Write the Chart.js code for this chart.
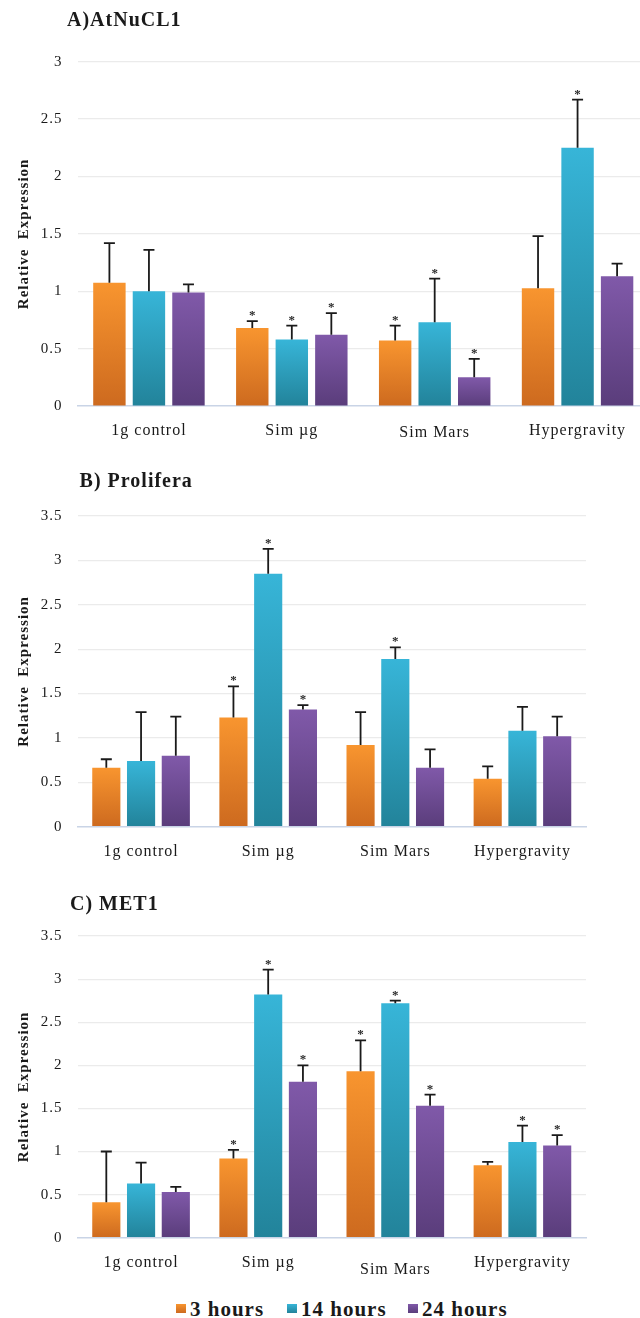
<!DOCTYPE html>
<html>
<head>
<meta charset="utf-8">
<script src="https://cdn.jsdelivr.net/npm/chart.js@4.4.1/dist/chart.umd.min.js"></script>
<style>
  html, body { margin: 0; padding: 0; background: #ffffff; width: 640px; height: 1318px; overflow: hidden; }
  .panel { position: absolute; left: 0; }
  .legend-item { position: absolute; font: bold 21px "Liberation Serif", "Times New Roman", serif; letter-spacing: 1px; line-height: 24px; color: #1a1a1a; white-space: nowrap; }
  .legend-item i { position: absolute; left: 0; top: 7px; width: 10px; height: 9px; }
  .legend-item span { position: absolute; left: 14px; top: 0; }
</style>
</head>
<body>
<div class="panel" style="top:0px;width:660px;height:450px"><canvas id="cA"></canvas></div>
<div class="panel" style="top:440px;width:660px;height:430px"><canvas id="cB"></canvas></div>
<div class="panel" style="top:870px;width:660px;height:412px"><canvas id="cC"></canvas></div>
<div id="legend"></div>
<script>
// ---------------- DATA ----------------
const categories = ['1g control', 'Sim \u00b5g', 'Sim Mars', 'Hypergravity'];
const seriesNames = ['3 hours', '14 hours', '24 hours'];

// A) AtNuCL1
const a3h  = [1.075, 0.68, 0.57, 1.025];
const a14h = [1.00, 0.58, 0.73, 2.25];
const a24h = [0.99, 0.62, 0.25, 1.13];
const a3hErr  = [0.345, 0.06, 0.13, 0.455];
const a14hErr = [0.36, 0.12, 0.38, 0.42];
const a24hErr = [0.07, 0.19, 0.16, 0.11];
const a3hSig  = [0, 1, 1, 0];
const a14hSig = [0, 1, 1, 1];
const a24hSig = [0, 1, 1, 0];

// B) Prolifera
const b3h  = [0.665, 1.23, 0.92, 0.54];
const b14h = [0.74, 2.85, 1.89, 1.08];
const b24h = [0.80, 1.32, 0.665, 1.02];
const b3hErr  = [0.095, 0.35, 0.37, 0.14];
const b14hErr = [0.55, 0.28, 0.13, 0.27];
const b24hErr = [0.44, 0.05, 0.205, 0.22];
const b3hSig  = [0, 1, 0, 0];
const b14hSig = [0, 1, 1, 0];
const b24hSig = [0, 1, 0, 0];

// C) MET1
const c3h  = [0.41, 0.92, 1.93, 0.84];
const c14h = [0.63, 2.82, 2.72, 1.11];
const c24h = [0.53, 1.81, 1.53, 1.07];
const c3hErr  = [0.59, 0.10, 0.36, 0.04];
const c14hErr = [0.24, 0.29, 0.03, 0.19];
const c24hErr = [0.06, 0.19, 0.13, 0.12];
const c3hSig  = [0, 1, 1, 0];
const c14hSig = [0, 1, 1, 1];
const c24hSig = [0, 1, 1, 1];

const panelTitles = ['A)AtNuCL1', 'B) Prolifera', 'C) MET1'];
const yTitle = 'Relative  Expression';
const yMaxA = 3, yMaxBC = 3.5, yStep = 0.5;

// ---------------- STYLE ----------------
const SERIF = '"Liberation Serif", "Times New Roman", serif';
const TEXT = '#1a1a1a';
const palette = [
  { top: '#F8952F', bot: '#CD6A1F' },
  { top: '#37B5D8', bot: '#22839A' },
  { top: '#8059A9', bot: '#5A3D7B' }
];

function barGradient(idx) {
  return function (ctx) {
    const c = palette[idx];
    const chart = ctx.chart;
    if (!chart.chartArea || ctx.raw === undefined || !chart.scales.y) return c.top;
    const ys = chart.scales.y;
    const y0 = ys.getPixelForValue(ctx.raw);
    const y1 = ys.getPixelForValue(0);
    if (!isFinite(y0) || !isFinite(y1) || y0 === y1) return c.top;
    const g = chart.ctx.createLinearGradient(0, y0, 0, y1);
    g.addColorStop(0, c.top);
    g.addColorStop(1, c.bot);
    return g;
  };
}

const spacingPlugin = {
  id: 'spacing',
  beforeUpdate(chart) { chart.ctx.letterSpacing = '1px'; },
  beforeDraw(chart) { chart.ctx.letterSpacing = '1px'; }
};

const errorBarPlugin = {
  id: 'errorBars',
  afterDatasetsDraw(chart) {
    const ctx = chart.ctx;
    const ys = chart.scales.y;
    ctx.save();
    chart.data.datasets.forEach((ds, di) => {
      const meta = chart.getDatasetMeta(di);
      meta.data.forEach((bar, i) => {
        const top = ys.getPixelForValue(ds.data[i] + ds.errors[i]);
        ctx.strokeStyle = '#1a1a1a';
        ctx.lineWidth = 1.8;
        ctx.beginPath();
        ctx.moveTo(bar.x, bar.y);
        ctx.lineTo(bar.x, top);
        ctx.moveTo(bar.x - 5.5, top);
        ctx.lineTo(bar.x + 5.5, top);
        ctx.stroke();
        if (ds.sig[i]) {
          ctx.fillStyle = '#2a2a2a';
          ctx.font = 'bold 13px ' + SERIF;
          ctx.textAlign = 'center';
          ctx.textBaseline = 'alphabetic';
          ctx.fillText('*', bar.x + 0.5, top - 2);
        }
      });
    });
    ctx.restore();
  }
};

const panelTitlePlugin = {
  id: 'panelTitle',
  afterDraw(chart, args, opts) {
    const ctx = chart.ctx;
    ctx.save();
    ctx.letterSpacing = '1px';
    ctx.font = 'bold 20px ' + SERIF;
    ctx.fillStyle = TEXT;
    ctx.textAlign = 'left';
    ctx.textBaseline = 'middle';
    ctx.fillText(opts.text, opts.x, opts.y);
    ctx.restore();
  }
};

function makePanel(cfg) {
  const W = 660;
  const datasets = [
    { label: seriesNames[0], data: cfg.s[0], errors: cfg.e[0], sig: cfg.g[0], backgroundColor: barGradient(0) },
    { label: seriesNames[1], data: cfg.s[1], errors: cfg.e[1], sig: cfg.g[1], backgroundColor: barGradient(1) },
    { label: seriesNames[2], data: cfg.s[2], errors: cfg.e[2], sig: cfg.g[2], backgroundColor: barGradient(2) }
  ];
  datasets.forEach(d => { d.categoryPercentage = cfg.cp; d.barPercentage = cfg.bp; d.borderWidth = 0; });
  const canvas = document.getElementById(cfg.id);
  new Chart(canvas, {
    type: 'bar',
    data: { labels: categories, datasets },
    plugins: [spacingPlugin, errorBarPlugin, panelTitlePlugin],
    options: {
      responsive: true,
      maintainAspectRatio: false,
      animation: false,
      events: [],
      layout: { padding: { top: cfg.areaTop, right: W - cfg.areaRight, bottom: 0, left: 0 } },
      plugins: {
        legend: { display: false },
        tooltip: { enabled: false },
        title: { display: false },
        panelTitle: { text: cfg.title, x: cfg.titleX, y: cfg.titleY }
      },
      scales: {
        x: {
          grid: { display: false, drawTicks: false },
          border: { display: true, color: '#C9D4E6', width: 1.5 },
          ticks: {
            color: TEXT,
            padding: cfg.labelPad,
            maxRotation: 0,
            autoSkip: false,
            font: (c) => ({ family: SERIF, size: 16, lineHeight: (cfg.marsShift && c.index === 2) ? 1.2 + cfg.marsShift * 2 / 16 : 1.2 })
          },
          afterFit(scale) { scale.height = cfg.H - cfg.areaBottom; }
        },
        y: {
          min: 0,
          max: cfg.yMax,
          border: { display: false },
          grid: { color: (c) => c.tick && c.tick.value === 0 ? 'rgba(0,0,0,0)' : '#EBEBEB', lineWidth: 1.2, drawTicks: false },
          ticks: {
            stepSize: yStep,
            color: TEXT,
            padding: 15,
            font: { family: SERIF, size: 15 },
            callback: (v) => String(v)
          },
          title: {
            display: true,
            text: yTitle,
            color: TEXT,
            font: { family: SERIF, size: 15, weight: 'bold' },
            padding: { top: 15.5, bottom: 0 }
          },
          afterFit(scale) { scale.width = 77.5; }
        }
      }
    }
  });
}

makePanel({ id: 'cA', H: 450, areaTop: 61.7, areaBottom: 406, areaRight: 649, yMax: yMaxA,
  cp: 0.83, bp: 0.82, labelPad: 15.5, marsShift: 1.5,
  title: panelTitles[0], titleX: 67, titleY: 21,
  s: [a3h, a14h, a24h], e: [a3hErr, a14hErr, a24hErr], g: [a3hSig, a14hSig, a24hSig] });

makePanel({ id: 'cB', H: 430, areaTop: 76, areaBottom: 386.7, areaRight: 586, yMax: yMaxBC,
  cp: 0.82, bp: 0.81, labelPad: 15, marsShift: 0,
  title: panelTitles[1], titleX: 79.6, titleY: 41.7,
  s: [b3h, b14h, b24h], e: [b3hErr, b14hErr, b24hErr], g: [b3hSig, b14hSig, b24hSig] });

makePanel({ id: 'cC', H: 412, areaTop: 66, areaBottom: 367.7, areaRight: 586, yMax: yMaxBC,
  cp: 0.82, bp: 0.81, labelPad: 15.5, marsShift: 7,
  title: panelTitles[2], titleX: 70, titleY: 35,
  s: [c3h, c14h, c24h], e: [c3hErr, c14hErr, c24hErr], g: [c3hSig, c14hSig, c24hSig] });

// HTML legend built from series names
const legendLefts = [176, 287, 408];
const legendEl = document.getElementById('legend');
seriesNames.forEach((name, i) => {
  const item = document.createElement('div');
  item.className = 'legend-item';
  item.style.left = legendLefts[i] + 'px';
  item.style.top = '1297px';
  const sw = document.createElement('i');
  sw.style.background = 'linear-gradient(' + palette[i].top + ',' + palette[i].bot + ')';
  const tx = document.createElement('span');
  tx.textContent = name;
  item.appendChild(sw);
  item.appendChild(tx);
  legendEl.appendChild(item);
});
</script>
</body>
</html>
